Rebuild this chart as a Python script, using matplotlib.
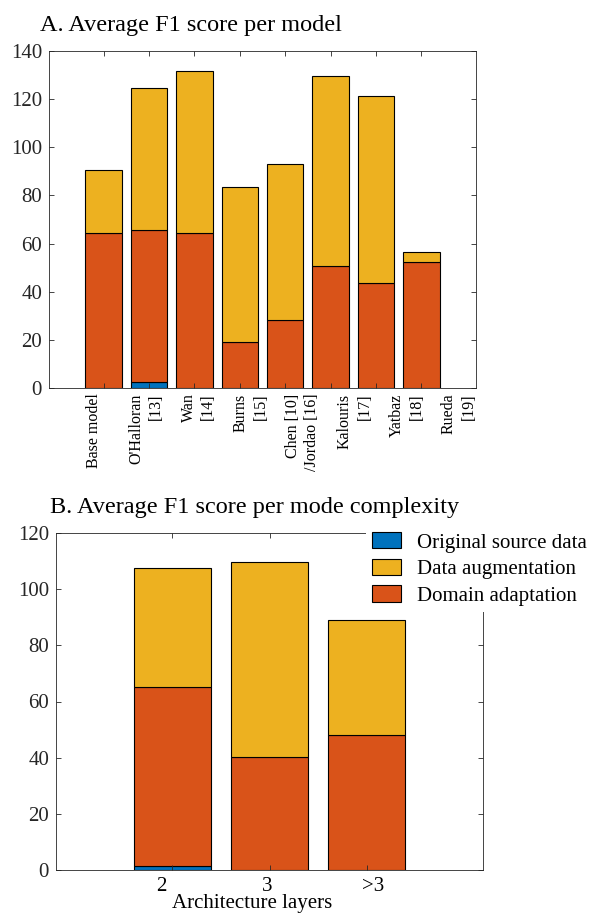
import numpy as np
import matplotlib
matplotlib.use('Agg')
import matplotlib.pyplot as plt

plt.rcParams['font.family'] = ['Liberation Serif', 'DejaVu Serif']

# MATLAB default colours
BLUE = '#0072BD'
ORANGE = '#D95319'
YELLOW = '#EDB120'
GREY = '#262626'

# A. per model
models = ["Base model", "O'Halloran\n[13]", "Wan\n[14]", "Burns\n[15]",
          "Chen [10]\n/Jordao [16]", "Kalouris\n[17]", "Yatbaz\n[18]", "Rueda\n[19]"]
orig_a = np.array([0, 2.6, 0, 0, 0, 0, 0, 0])
domain_a = np.array([64.5, 63.2, 64.2, 19.0, 28.1, 50.5, 43.5, 52.2])
augment_a = np.array([25.9, 58.8, 67.6, 64.7, 64.8, 79.1, 77.9, 4.2])

# B. per model complexity
layers = ["2", "3", ">3"]
orig_b = np.array([1.4, 0, 0])
domain_b = np.array([63.6, 40.4, 48.1])
augment_b = np.array([42.7, 69.2, 40.9])

W, H = 592, 919
fig = plt.figure(figsize=(W / 100, H / 100), dpi=100)


def px_rect(left, top, right, bottom):
    return [left / W, 1 - bottom / H, (right - left) / W, (bottom - top) / H]


def stacked(ax, orig, domain, augment):
    x = np.arange(1, len(orig) + 1)
    kw = dict(width=0.8, edgecolor='black', linewidth=0.8)
    b0 = ax.bar(x, orig, color=BLUE, **kw)
    b2 = ax.bar(x, domain, bottom=orig, color=ORANGE, **kw)
    b1 = ax.bar(x, augment, bottom=orig + domain, color=YELLOW, **kw)
    return x, b0, b1, b2


def style(ax):
    for s in ax.spines.values():
        s.set_color(GREY)
        s.set_linewidth(0.6)
    ax.tick_params(which='major', direction='in', top=True, right=True,
                   length=3.6, width=0.6, color=GREY, labelcolor=GREY,
                   labelsize=15)
    ax.tick_params(axis='y', pad=5)


# ---- A ----
ax1 = fig.add_axes(px_rect(49, 51, 476, 388))
x, _, _, _ = stacked(ax1, orig_a, domain_a, augment_a)
ax1.set_xlim(-0.2, 9.2)
ax1.set_ylim(0, 140)
ax1.set_yticks(range(0, 141, 20))
style(ax1)
ax1.set_xticks(x)
ax1.set_xticklabels([])
# labels drift to the right of the tick marks in the original export
ax1.set_xticks(x * 1.146 - 0.346, labels=models, minor=True)
ax1.tick_params(axis='x', which='minor', length=0, pad=4, labelsize=11.5,
                labelcolor='black', rotation=90)
for t in ax1.get_xticklabels(minor=True):
    t.set_multialignment('right')
    t.set_linespacing(1.3)
fig.text(40 / W, 1 - 31 / H, "A. Average F1 score per model", fontsize=17.5,
         va='baseline', ha='left')

# ---- B ----
ax2 = fig.add_axes(px_rect(56, 533, 483, 870))
x, b0, b1, b2 = stacked(ax2, orig_b, domain_b, augment_b)
ax2.set_xlim(-0.2, 4.2)
ax2.set_ylim(0, 120)
ax2.set_yticks(range(0, 121, 20))
style(ax2)
ax2.set_xticks(x)
ax2.set_xticklabels([])
ax2.set_xticks(x * 1.09 - 0.2, labels=layers, minor=True)
ax2.tick_params(axis='x', which='minor', length=0, pad=5, labelsize=15,
                labelcolor='black')
ax2.set_xlabel("Architecture layers", fontsize=15)
ax2.xaxis.set_label_coords(0.46, -0.072)
fig.text(50 / W, 1 - 513 / H, "B. Average F1 score per mode complexity",
         fontsize=17.5, va='baseline', ha='left')

fig.legend([b0, b1, b2],
           ["Original source data", "Data augmentation", "Domain adaptation"],
           loc='upper left', bbox_to_anchor=(366 / W, 1 - 526 / H),
           borderaxespad=0, borderpad=0.3, fontsize=15, frameon=True,
           facecolor='white', edgecolor='none', framealpha=1, fancybox=False,
           handlelength=1.39, handleheight=0.82, handletextpad=0.75,
           labelspacing=0.3)

fig.savefig("out.png", dpi=100)
